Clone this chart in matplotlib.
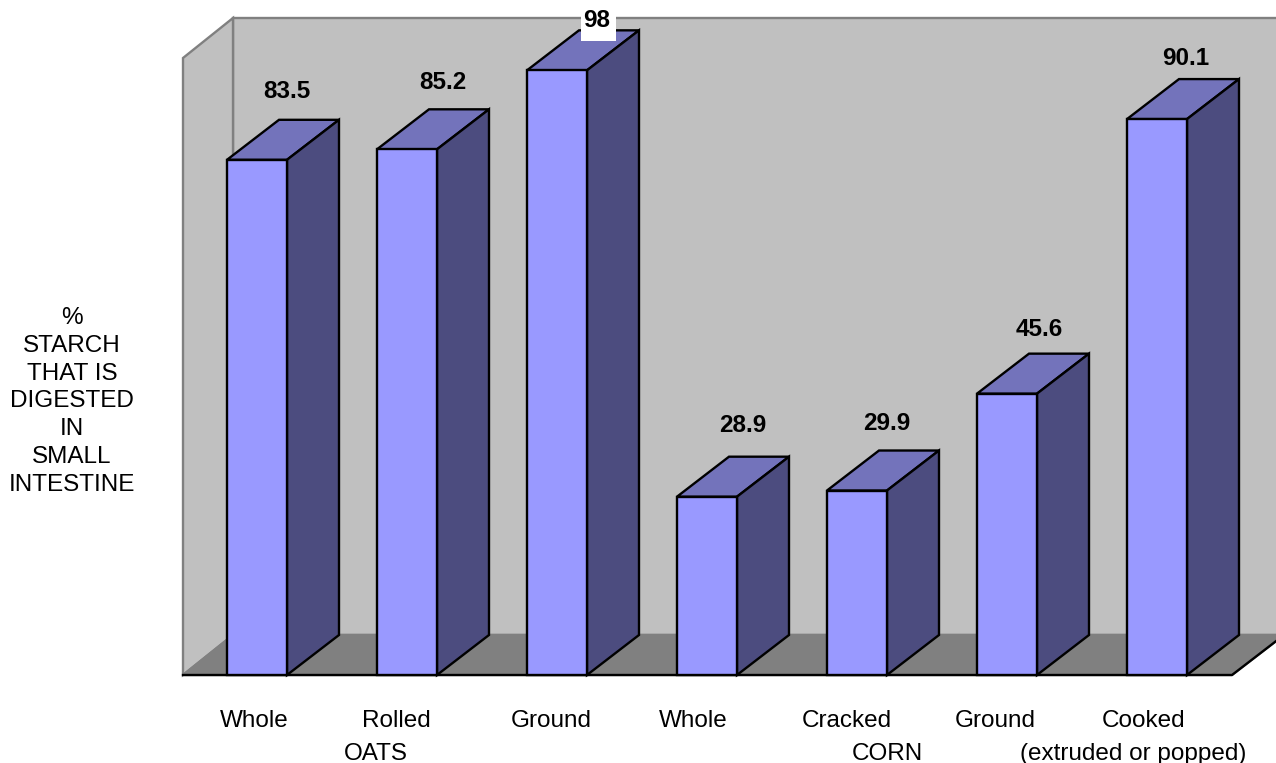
import matplotlib
matplotlib.use('Agg')
import matplotlib.pyplot as plt
from matplotlib.patches import Polygon

plt.rcParams['font.family'] = ['Liberation Sans', 'DejaVu Sans']

categories = ['Whole', 'Rolled', 'Ground', 'Whole', 'Cracked', 'Ground', 'Cooked']
values = [83.5, 85.2, 98, 28.9, 29.9, 45.6, 90.1]
group_labels = ['OATS', 'CORN', '(extruded or popped)']
ylabel_lines = ['%', 'STARCH', 'THAT IS', 'DIGESTED', 'IN', 'SMALL', 'INTESTINE']

# hand placed text, in pixels of the saved figure
value_label_pos = [(287, 92), (443, 83), (597, 21), (743, 426), (887, 424), (1039, 330), (1186, 59)]
category_label_x = [254, 396, 551, 693, 847, 995, 1144]
group_label_x = [376, 887, 1133]

W, H = 1276, 763
x0_px, step_px = 257, 150
y0_px, unit_px = 675, 6.17
bar_w = 60 / step_px
dx = 52 / step_px
wall_dx = 50 / step_px
dy = 40 / unit_px
ymax = 100

FRONT = '#9999FF'
TOP = '#7373BB'
SIDE = '#4C4C7F'
WALL = '#C0C0C0'
FLOOR = '#808080'
FONT = 17.5
LW = 1.7

fig = plt.figure(figsize=(W / 100, H / 100), dpi=100)
ax = fig.add_axes([0, 0, 1, 1])
ax.set_xlim(-x0_px / step_px, (W - x0_px) / step_px)
ax.set_ylim(-(H - y0_px) / unit_px, y0_px / unit_px)
ax.axis('off')


def px(x, y):
    # pixel position (origin top left) to data coordinates
    return (x - x0_px) / step_px, (y0_px - y) / unit_px


# walls and floor
left = px(183, 0)[0]
back = left + wall_dx
right = px(1232, 0)[0]
ax.add_patch(Polygon([(back, dy), (back, ymax + dy), (right + dx, ymax + dy), (right + dx, dy)],
                     fc=WALL, ec=FLOOR, lw=LW, zorder=1))
ax.add_patch(Polygon([(left, 0), (left, ymax), (back, ymax + dy), (back, dy)],
                     fc=WALL, ec=FLOOR, lw=LW, zorder=1))
ax.add_patch(Polygon([(left, 0), (back, dy), (right + dx, dy), (right, 0)],
                     fc=FLOOR, ec=FLOOR, lw=LW, zorder=1.5))
ax.plot([left, right, right + dx], [0, 0, dy], color='black', lw=LW, zorder=2)

# bars, front face plus the top and side faces
xs = list(range(len(values)))
ax.bar(xs, values, width=bar_w, color=FRONT, edgecolor='black', linewidth=LW, zorder=4)
for x, v in zip(xs, values):
    l = x - bar_w / 2
    r = x + bar_w / 2
    ax.add_patch(Polygon([(l, v), (l + dx, v + dy), (r + dx, v + dy), (r, v)],
                         fc=TOP, ec='black', lw=LW, joinstyle='miter', zorder=3))
    ax.add_patch(Polygon([(r, 0), (r, v), (r + dx, v + dy), (r + dx, dy)],
                         fc=SIDE, ec='black', lw=LW, joinstyle='miter', zorder=3))

# white patch behind the 98 label
bx0, by0 = px(581, 41)
bx1, by1 = px(616, 0)
ax.add_patch(Polygon([(bx0, by0), (bx0, by1), (bx1, by1), (bx1, by0)], fc='white', ec='none', zorder=5))

for v, (lx, ly) in zip(values, value_label_pos):
    tx, ty = px(lx, ly)
    ax.text(tx, ty, f'{v:g}', ha='center', va='center', fontsize=FONT, fontweight='bold', zorder=6)

for name, lx in zip(categories, category_label_x):
    tx, ty = px(lx, 721)
    ax.text(tx, ty, name, ha='center', va='center', fontsize=FONT)

for name, lx in zip(group_labels, group_label_x):
    tx, ty = px(lx, 754)
    ax.text(tx, ty, name, ha='center', va='center', fontsize=FONT)

for i, line in enumerate(ylabel_lines):
    tx, ty = px(72, 318 + i * 27.8)
    ax.text(tx, ty, line, ha='center', va='center', fontsize=FONT)

fig.savefig('out.png', dpi=100, facecolor='white')
